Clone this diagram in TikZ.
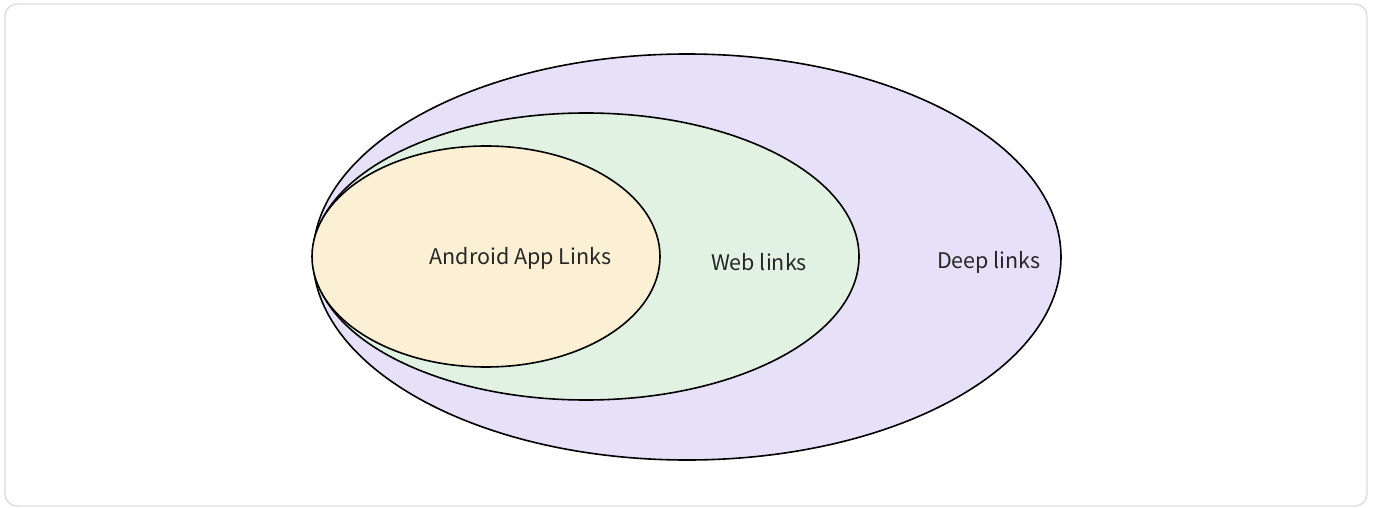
\documentclass[tikz,border=0pt]{standalone}
\usepackage{fontspec}
\setmainfont{Noto Sans CJK SC}
\usetikzlibrary{shapes.geometric}
\definecolor{deepfill}{HTML}{E6E1F8}
\definecolor{webfill}{HTML}{E1F2E3}
\definecolor{appfill}{HTML}{FBF0D3}
\definecolor{frameline}{HTML}{DCDCE0}

\begin{document}
\begin{tikzpicture}[x=1pt,y=-1pt,
  set node/.style={ellipse,draw,line width=1.6pt,inner sep=0pt},
  label node/.style={font=\fontsize{21.5}{24}\selectfont,text=black!85}]
  \useasboundingbox (0,0) rectangle (1378,508);
  \draw[frameline,line width=1.4pt,fill=white,rounded corners=12pt] (5,4) rectangle (1367,506);
  \node[set node,fill=deepfill] (deep) at (687,257) [minimum width=748pt,minimum height=406pt] {};
  \node[set node,fill=webfill]  (web)  at (586,256.5) [minimum width=546pt,minimum height=287pt] {};
  \node[set node,fill=appfill]  (app)  at (486,256.5) [minimum width=348pt,minimum height=221pt] {};
  \node[label node] (applabel)  at (520.5,258) {Android App Links};
  \node[label node] (weblabel)  at (759,262) {Web links};
  \node[label node] (deeplabel) at (989,262) {Deep links};
\end{tikzpicture}
\end{document}
